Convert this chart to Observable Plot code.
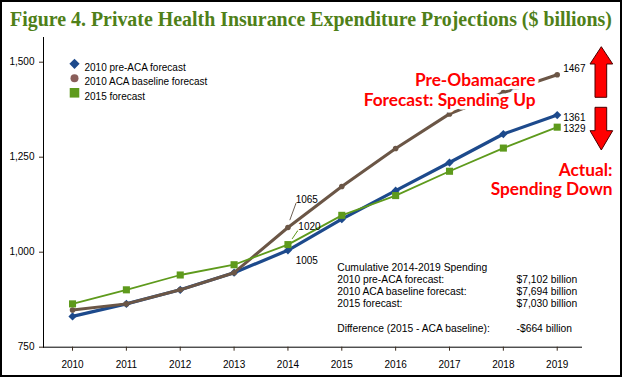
<!DOCTYPE html>
<html><head><meta charset="utf-8">
<script src="https://cdn.jsdelivr.net/npm/d3@7"></script>
<script src="https://cdn.jsdelivr.net/npm/@observablehq/plot@0.6"></script>
<style>
body{margin:0;background:#fff;}
#wrap{width:622px;height:377px;box-sizing:border-box;border:2px solid #000;position:relative;overflow:hidden;background:#fff;}
#title{height:34px;white-space:nowrap;font-family:"Liberation Serif",serif;font-weight:bold;font-size:22px;color:#4f8018;line-height:34px;padding-left:8px;}
#title span{display:inline-block;transform-origin:0 50%;}
#chart svg{display:block;overflow:visible;}
#arrows{position:absolute;left:-2px;top:-2px;pointer-events:none;}
</style></head><body>
<div id="wrap">
<div id="title"><span id="tspan">Figure 4. Private Health Insurance Expenditure Projections ($ billions)</span></div>
<div id="chart"></div>
<svg id="arrows" width="622" height="377">
<path d="M601.3,46.7 L612.7,64 L606.7,64 L606.7,97.3 L595,97.3 L595,64 L590,64 Z" fill="#ff0000" stroke="#4a0000" stroke-width="1"/>
<path d="M595,107.3 L606.7,107.3 L606.7,130.7 L612.7,130.7 L601.3,150 L590,130.7 L595,130.7 Z" fill="#ff0000" stroke="#4a0000" stroke-width="1"/>
</svg>
</div>
<script>
const years = [2010, 2011, 2012, 2013, 2014, 2015, 2016, 2017, 2018, 2019];
const preACA = [831, 864, 901, 946, 1005, 1087, 1162, 1236, 1311, 1361];
const acaBaseline = [848, 864, 901, 946, 1065, 1173, 1273, 1364, 1420, 1467];
const forecast2015 = [864, 901, 940, 967, 1020, 1097, 1149, 1213, 1274, 1329];
const seriesNames = ["2010 pre-ACA forecast", "2010 ACA baseline forecast", "2015 forecast"];
const yTicks = [750, 1000, 1250, 1500];
const summaryTitle = "Cumulative 2014-2019 Spending";
const summaryLabels = ["2010 pre-ACA forecast:", "2010 ACA baseline forecast:", "2015 forecast:"];
const summaryValues = ["$7,102 billion", "$7,694 billion", "$7,030 billion"];
const differenceLabel = "Difference (2015 - ACA baseline):";
const differenceValue = "-$664 billion";
const upText = ["Pre-Obamacare", "Forecast: Spending Up"];
const downText = ["Actual:", "Spending Down"];

const BLUE = "#1d4a8c", BROWN = "#6b5646", GREEN = "#5e9a1c";
const series = [
  {name: seriesNames[0], values: preACA, color: BLUE, width: 3.2, symbol: "diamond2", r: 3.7, lr: 4.6},
  {name: seriesNames[1], values: acaBaseline, color: BROWN, width: 3, symbol: "circle", r: 2.8, lr: 4},
  {name: seriesNames[2], values: forecast2015, color: GREEN, width: 1.8, symbol: "square", r: 4, lr: 5.4}
];

const i14 = years.indexOf(2014), i19 = years.indexOf(2019);
const valueLabels = [
  {s: 1, i: i14, dx: 7.7, dy: -27.7},
  {s: 2, i: i14, dx: 10.4, dy: -17.6},
  {s: 0, i: i14, dx: 7.7, dy: 10},
  {s: 1, i: i19, dx: 6, dy: -6},
  {s: 0, i: i19, dx: 6, dy: 2.3},
  {s: 2, i: i19, dx: 6, dy: 1.7}
];
const leaders = [
  {s: 1, i: i14, dx: 2, dy: -7.7, length: 17, rotate: 20, color: "#6b5e52"},
  {s: 2, i: i14, dx: 4.4, dy: -6, length: 9, rotate: 34, color: GREEN}
];

const font = "'Liberation Sans', Arial, Helvetica, sans-serif";
const marks = [];
for (const s of series) {
  marks.push(Plot.line(years, {x: d => d, y: (d, i) => s.values[i], stroke: s.color, strokeWidth: s.width, strokeLinejoin: "round"}));
  marks.push(Plot.dot(years, {x: d => d, y: (d, i) => s.values[i], symbol: s.symbol, r: s.r, fill: s.color}));
}
for (const L of leaders) {
  marks.push(Plot.vector([L], {x: d => years[d.i], y: d => series[d.s].values[d.i], length: L.length, rotate: L.rotate, anchor: "start", r: 0, stroke: L.color, strokeWidth: 0.9, dx: L.dx, dy: L.dy}));
}
for (const V of valueLabels) {
  marks.push(Plot.text([V], {x: d => years[d.i], y: d => series[d.s].values[d.i], text: d => String(series[d.s].values[d.i]), textAnchor: "start", dx: V.dx, dy: V.dy, fill: "#000", fontSize: 10}));
}
// legend
series.forEach((s, k) => {
  marks.push(Plot.dot([s], {frameAnchor: "top-left", dx: 31, dy: 26.3 + k * 14.5, symbol: s.symbol, r: s.lr, fill: k === 1 ? "#8a5e5a" : s.color}));
  marks.push(Plot.text([s.name], {frameAnchor: "top-left", dx: 41, dy: 26.3 + k * 14.5, text: d => d, textAnchor: "start", fontSize: 10, fill: "#000"}));
});
// summary block
const leftLines = [summaryTitle, ...summaryLabels];
leftLines.forEach((t, k) => {
  marks.push(Plot.text([t], {frameAnchor: "top-left", dx: 293.7, dy: 226.3 + k * 12, text: d => d, textAnchor: "start", fontSize: 10.3, fill: "#000"}));
});
summaryValues.forEach((t, k) => {
  marks.push(Plot.text([t], {frameAnchor: "top-left", dx: 473, dy: 238.3 + k * 12, text: d => d, textAnchor: "start", fontSize: 10.3, fill: "#000"}));
});
marks.push(Plot.text([differenceLabel], {frameAnchor: "top-left", dx: 293.7, dy: 287, text: d => d, textAnchor: "start", fontSize: 10.3, fill: "#000"}));
marks.push(Plot.text([differenceValue], {frameAnchor: "top-left", dx: 473, dy: 287, text: d => d, textAnchor: "start", fontSize: 10.3, fill: "#000"}));
// red annotations
const redFont = "Lato, 'Open Sans', sans-serif";
upText.forEach((t, k) => {
  marks.push(Plot.text([t], {frameAnchor: "top-left", dx: 492, dy: 36.3 + k * 19.7, text: d => d, textAnchor: "end", fontSize: 17.3, fontWeight: "bold", fontFamily: redFont, fill: "#ff0000", stroke: "#fff", strokeWidth: 7}));
});
downText.forEach((t, k) => {
  marks.push(Plot.text([t], {frameAnchor: "top-left", dx: 569, dy: 126 + k * 19.3, text: d => d, textAnchor: "end", fontSize: 17.3, fontWeight: "bold", fontFamily: redFont, fill: "#ff0000"}));
});

const chart = Plot.plot({
  width: 618, height: 339,
  marginLeft: 41, marginRight: 39, marginTop: 1, marginBottom: 28.3,
  style: {fontFamily: font, fontSize: "10px", color: "#000", background: "transparent", overflow: "visible"},
  x: {type: "linear", domain: [2009.461, 2019.451], ticks: years, tickFormat: d => String(d), tickSize: 4, tickPadding: 10, line: true, label: null},
  y: {domain: [750, 1565], ticks: yTicks, tickFormat: d3.format(","), tickSize: 4, tickPadding: 5, line: true, label: null},
  marks
});
document.getElementById("chart").appendChild(chart);
d3.select(chart).selectAll("g[aria-label*='axis'] line, g[aria-label*='axis'] path").attr("stroke", "#3b2b1e");
function fitTitle() {
  const sp = document.getElementById("tspan");
  sp.style.transform = "none";
  const w = sp.getBoundingClientRect().width;
  sp.style.transform = `scaleX(${602 / w})`;
}
fitTitle();
if (document.fonts) document.fonts.ready.then(fitTitle);
</script>
</body></html>
